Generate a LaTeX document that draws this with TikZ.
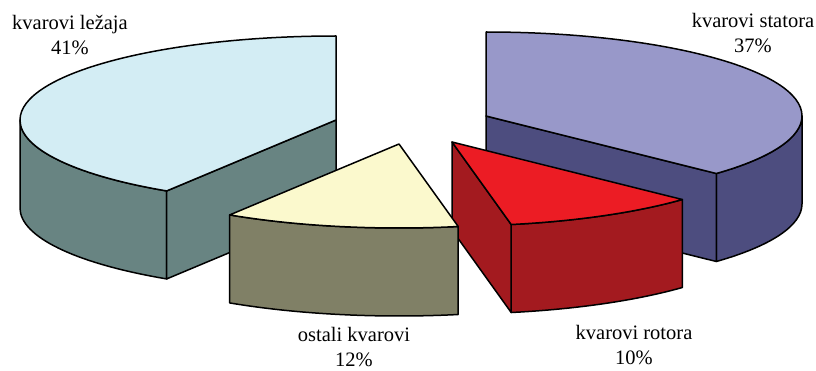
\documentclass[tikz,border=0pt]{standalone}
\usepackage{fontspec}
\setmainfont{Liberation Serif}
\usetikzlibrary{calc}
\definecolor{lezajaTop}{RGB}{211,237,244}
\definecolor{lezajaSide}{RGB}{104,132,130}
\definecolor{statorTop}{RGB}{152,152,201}
\definecolor{statorSide}{RGB}{77,77,127}
\definecolor{rotorTop}{RGB}{236,28,36}
\definecolor{rotorSide}{RGB}{163,26,31}
\definecolor{ostaliTop}{RGB}{251,249,205}
\definecolor{ostaliSide}{RGB}{128,128,102}
\tikzstyle{every node}=[font=\fontsize{20.5}{25}\selectfont]
\tikzstyle{piece}=[draw=black,line width=1.5pt,line join=round,x radius=316pt,y radius=84pt]
\tikzstyle{pct}=[align=center,anchor=north,inner sep=0pt]

\begin{document}
\begin{tikzpicture}[x=1pt,y=1pt]
    \useasboundingbox (0,0) rectangle (816,370);
    % centres of the four pieces
    \coordinate (L) at (336,250);
    \coordinate (S) at (486,254);
    \coordinate (R) at (452,228);
    \coordinate (O) at (399,226);
    % kvarovi lezaja
    \draw[piece,fill=lezajaSide] ($(L)+(180:316pt and 84pt)$) arc[start angle=180,end angle=237.6]
        -- ++(0,-88) arc[start angle=237.6,end angle=180] -- cycle;
    \draw[piece,fill=lezajaSide] (L) -- ($(L)+(237.6:316pt and 84pt)$) -- ++(0,-88)
        -- ($(L)+(0,-88)$) -- cycle;
    \draw[piece,fill=lezajaTop] (L) -- ($(L)+(90:316pt and 84pt)$)
        arc[start angle=90,end angle=237.6] -- cycle;
    % kvarovi statora
    \draw[piece,fill=statorSide] ($(S)+(0:316pt and 84pt)$) arc[start angle=0,end angle=-43.2]
        -- ++(0,-88) arc[start angle=-43.2,end angle=0] -- cycle;
    \draw[piece,fill=statorSide] (S) -- ($(S)+(-43.2:316pt and 84pt)$) -- ++(0,-88)
        -- ($(S)+(0,-88)$) -- cycle;
    \draw[piece,fill=statorTop] (S) -- ($(S)+(90:316pt and 84pt)$)
        arc[start angle=90,end angle=-43.2] -- cycle;
    % kvarovi rotora
    \draw[piece,fill=rotorSide] ($(R)+(-79.2:316pt and 84pt)$) arc[start angle=-79.2,end angle=-43.2]
        -- ++(0,-88) arc[start angle=-43.2,end angle=-79.2] -- cycle;
    \draw[piece,fill=rotorSide] (R) -- ($(R)+(-79.2:316pt and 84pt)$) -- ++(0,-88)
        -- ($(R)+(0,-88)$) -- cycle;
    \draw[piece,fill=rotorTop] (R) -- ($(R)+(-79.2:316pt and 84pt)$)
        arc[start angle=-79.2,end angle=-43.2] -- cycle;
    % ostali kvarovi
    \draw[piece,fill=ostaliSide] ($(O)+(-122.4:316pt and 84pt)$) arc[start angle=-122.4,end angle=-79.2]
        -- ++(0,-88) arc[start angle=-79.2,end angle=-122.4] -- cycle;
    \draw[piece,fill=ostaliTop] (O) -- ($(O)+(-122.4:316pt and 84pt)$)
        arc[start angle=-122.4,end angle=-79.2] -- cycle;
    % labels
    \node[pct] (lezajaLbl) at (70,355) {kvarovi ležaja\\41\%};
    \node[pct] (statorLbl) at (753,357) {kvarovi statora\\37\%};
    \node[pct] (rotorLbl) at (634,45) {kvarovi rotora\\10\%};
    \node[pct] (ostaliLbl) at (354,43) {ostali kvarovi\\12\%};
\end{tikzpicture}
\end{document}
